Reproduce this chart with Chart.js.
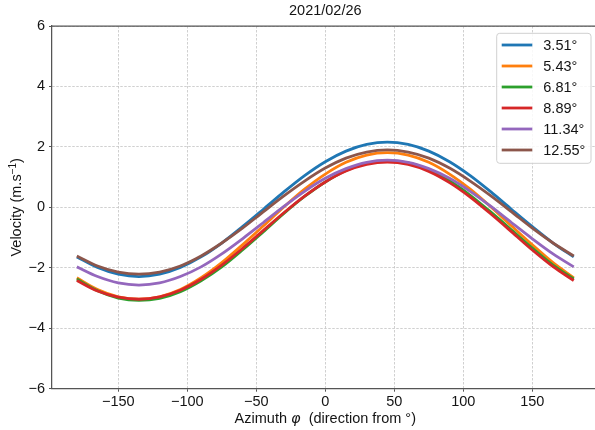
<!DOCTYPE html>
<html><head><meta charset="utf-8">
<script src="https://cdn.jsdelivr.net/npm/chart.js@4/dist/chart.umd.min.js"></script>
<style>html,body{margin:0;padding:0;background:#fff;overflow:hidden}#wrap{width:595px;height:430px;position:relative}</style>
</head><body><div id="wrap"><canvas id="c" width="595" height="430"></canvas></div>
<script>
const chartTitle = '2021/02/26';
const azimuth = [-180,-165,-150,-135,-120,-105,-90,-75,-60,-45,-30,-15,0,15,30,45,60,75,90,105,120,135,150,165,180];
const seriesLabels = ['3.51°','5.43°','6.81°','8.89°','11.34°','12.55°'];
const vel_351  = [-1.64,-1.99,-2.21,-2.29,-2.21,-1.99,-1.64,-1.18,-0.64,-0.07,0.51,1.05,1.51,1.86,2.08,2.16,2.08,1.86,1.51,1.05,0.51,-0.07,-0.64,-1.18,-1.64];
const vel_543  = [-2.33,-2.72,-2.96,-3.04,-2.96,-2.72,-2.33,-1.83,-1.24,-0.62,0.01,0.60,1.10,1.49,1.73,1.81,1.73,1.49,1.10,0.60,0.01,-0.62,-1.24,-1.83,-2.33];
const vel_681  = [-2.37,-2.76,-3.00,-3.08,-3.01,-2.79,-2.43,-1.97,-1.41,-0.81,-0.20,0.36,0.84,1.22,1.46,1.54,1.47,1.25,0.88,0.40,-0.16,-0.75,-1.35,-1.91,-2.37];
const vel_889  = [-2.42,-2.77,-2.97,-3.04,-2.96,-2.74,-2.38,-1.91,-1.36,-0.77,-0.18,0.37,0.84,1.20,1.42,1.50,1.42,1.19,0.82,0.34,-0.22,-0.81,-1.41,-1.96,-2.42];
const vel_1134 = [-1.97,-2.29,-2.50,-2.57,-2.50,-2.29,-1.97,-1.54,-1.04,-0.51,0.03,0.53,0.96,1.28,1.49,1.56,1.49,1.28,0.96,0.53,0.03,-0.51,-1.04,-1.54,-1.97];
const vel_1255 = [-1.61,-1.94,-2.14,-2.21,-2.14,-1.94,-1.61,-1.18,-0.69,-0.15,0.38,0.87,1.30,1.63,1.83,1.90,1.83,1.63,1.30,0.87,0.38,-0.15,-0.69,-1.18,-1.61];
const xTickValues = [-150,-100,-50,0,50,100,150];
const xTickLabels = ['\u2212150','\u2212100','\u221250','0','50','100','150'];
const yTickValues = [-6,-4,-2,0,2,4,6];
const yTickLabels = ['\u22126','\u22124','\u22122','0','2','4','6'];
const seriesColors = ['#1f77b4','#ff7f0e','#2ca02c','#d62728','#9467bd','#8c564b'];
const allSeries = [vel_351, vel_543, vel_681, vel_889, vel_1134, vel_1255];

const FONT = '"Liberation Sans", Arial, sans-serif';
const FS = 14.5;
const TXT = '#141414';
const SPINE = '#555555';
const GRID = '#c4c4c4';

const datasets = allSeries.map((vals, i) => ({
  label: seriesLabels[i],
  data: azimuth.map((x, k) => ({x: x, y: vals[k]})),
  borderColor: seriesColors[i],
  backgroundColor: seriesColors[i],
  borderWidth: 2.8,
  pointRadius: 0,
  fill: false,
  cubicInterpolationMode: 'monotone',
  order: allSeries.length - i
}));

const deco = {
  id: 'deco',
  afterDraw(chart) {
    const ctx = chart.ctx, a = chart.chartArea;
    const xs = chart.scales.x;
    ctx.save();
    ctx.strokeStyle = SPINE; ctx.lineWidth = 1.25;
    ctx.beginPath(); ctx.moveTo(a.left, a.top); ctx.lineTo(a.right, a.top); ctx.stroke();
    const cx = xs.getPixelForValue(0);
    ctx.fillStyle = TXT;
    ctx.font = FS + 'px ' + FONT;
    ctx.textAlign = 'center'; ctx.textBaseline = 'alphabetic';
    ctx.fillText(chartTitle, cx, 15);
    const parts = [
      {t: 'Azimuth ', f: FS + 'px ' + FONT},
      {t: '\u03C6', f: 'italic ' + FS + 'px "DejaVu Sans", ' + FONT},
      {t: '  (direction from \u00B0)', f: FS + 'px ' + FONT}
    ];
    let tw = 0;
    parts.forEach(p => { ctx.font = p.f; p.w = ctx.measureText(p.t).width; tw += p.w; });
    let x0 = cx - tw / 2;
    ctx.textAlign = 'left';
    parts.forEach(p => { ctx.font = p.f; ctx.fillText(p.t, x0, 423); x0 += p.w; });
    const cy = (a.top + a.bottom) / 2;
    const yp = [
      {t: 'Velocity (m.s', f: FS + 'px ' + FONT, dy: 0},
      {t: '\u22121', f: '10px ' + FONT, dy: -5.5},
      {t: ')', f: FS + 'px ' + FONT, dy: 0}
    ];
    let yw = 0;
    yp.forEach(p => { ctx.font = p.f; p.w = ctx.measureText(p.t).width; yw += p.w; });
    ctx.translate(21, cy);
    ctx.rotate(-Math.PI / 2);
    let y0 = -yw / 2;
    yp.forEach(p => { ctx.font = p.f; ctx.fillText(p.t, y0, p.dy); y0 += p.w; });
    ctx.restore();
    ctx.save();
    const bx = a.right - 98.3, by = a.top + 7.3, bw = 94.3, bh = 130;
    ctx.beginPath();
    if (ctx.roundRect) ctx.roundRect(bx, by, bw, bh, 3); else ctx.rect(bx, by, bw, bh);
    ctx.fillStyle = 'rgba(255,255,255,0.85)'; ctx.fill();
    ctx.strokeStyle = '#d0d0d0'; ctx.lineWidth = 1; ctx.stroke();
    ctx.font = FS + 'px ' + FONT;
    ctx.textAlign = 'left'; ctx.textBaseline = 'middle';
    chart.data.datasets.forEach((ds, i) => {
      const ly = by + 11.7 + 21 * i;
      ctx.strokeStyle = ds.borderColor; ctx.lineWidth = 2.8;
      ctx.beginPath(); ctx.moveTo(bx + 5, ly); ctx.lineTo(bx + 35.6, ly); ctx.stroke();
      ctx.fillStyle = TXT;
      ctx.fillText(ds.label, bx + 46.6, ly + 0.5);
    });
    ctx.restore();
  }
};

const gridOpts = {color: GRID, lineWidth: 0.8, drawTicks: true, tickLength: 3, tickColor: SPINE, tickWidth: 1, tickBorderDash: []};

new Chart(document.getElementById('c'), {
  type: 'line',
  data: {datasets: datasets},
  options: {
    responsive: false,
    animation: false,
    devicePixelRatio: 1,
    layout: {padding: {left: 0, top: 26, right: 0, bottom: 0}},
    plugins: {legend: {display: false}, title: {display: false}, tooltip: {enabled: false}},
    scales: {
      x: {
        type: 'linear', min: -198, max: 195.4,
        afterFit: s => { s.height = 41.3; },
        afterBuildTicks: s => { s.ticks = xTickValues.map(v => ({value: v})); },
        ticks: {
          autoSkip: false, maxRotation: 0, padding: 1.5, color: TXT,
          font: {family: FONT, size: FS},
          callback: v => xTickLabels[xTickValues.indexOf(v)]
        },
        grid: gridOpts,
        border: {display: true, color: SPINE, width: 1.25, dash: [2.5, 1.5]},
        title: {display: false}
      },
      y: {
        type: 'linear', min: -6, max: 6,
        afterFit: s => { s.width = 52; },
        afterBuildTicks: s => { s.ticks = yTickValues.map(v => ({value: v})); },
        ticks: {
          autoSkip: false, padding: 4, color: TXT,
          font: {family: FONT, size: FS},
          callback: v => yTickLabels[yTickValues.indexOf(v)]
        },
        grid: gridOpts,
        border: {display: true, color: SPINE, width: 1.25, dash: [2.5, 1.5]},
        title: {display: false}
      }
    }
  },
  plugins: [deco]
});
</script>
</body></html>
